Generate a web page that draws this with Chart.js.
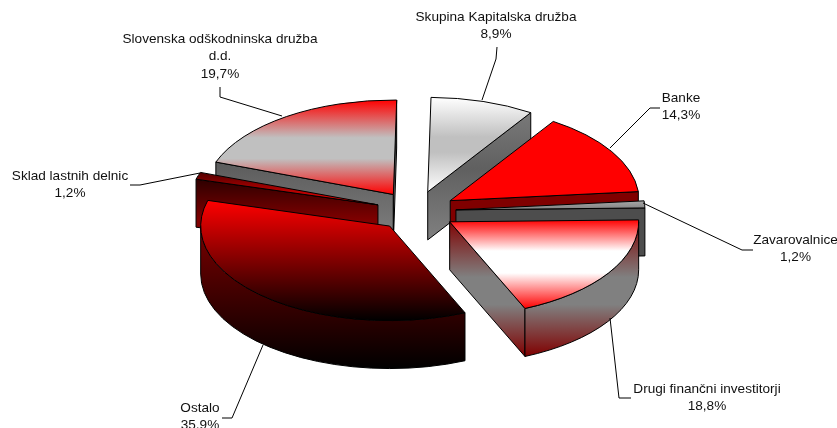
<!DOCTYPE html>
<html><head><meta charset="utf-8">
<style>html,body{margin:0;padding:0;background:#fff}canvas{display:block}</style>
<script src="https://cdn.jsdelivr.net/npm/chart.js@4/dist/chart.umd.min.js"></script>
</head><body><canvas id="c" width="837" height="428"></canvas>
<script>
const categories = ["Skupina Kapitalska družba","Banke","Zavarovalnice","Drugi finančni investitorji","Ostalo","Sklad lastnih delnic","Slovenska odškodninska družba\nd.d."];
const shares = [8.9,14.3,1.2,18.8,35.9,1.2,19.7];

// slice paint: top-face and wall vertical gradient stops
const topStops = [
 [[0,"#ffffff"],[.42,"#c0c0c0"],[.58,"#c0c0c0"],[1,"#ffffff"]],
 [[0,"#ff0000"],[1,"#ff0000"]],
 [[0,"#a8a8a8"],[1,"#808080"]],
 [[0,"#ff0000"],[.35,"#ffffff"],[.6,"#ffffff"],[1,"#ff0000"]],
 [[0,"#ff0000"],[1,"#000000"]],
 [[0,"#500000"],[1,"#ff0000"]],
 [[0,"#ff0000"],[.4,"#c0c0c0"],[.62,"#c0c0c0"],[1,"#ff0000"]]
];
const wallStops = [
 [[0,"#808080"],[.5,"#606060"],[1,"#808080"]],
 [[0,"#800000"],[1,"#800000"]],
 [[0,"#4d4d4d"],[1,"#4d4d4d"]],
 [[0,"#800000"],[.42,"#808080"],[.62,"#808080"],[1,"#800000"]],
 [[0,"#900000"],[1,"#000000"]],
 [[0,"#200000"],[.6,"#800000"],[1,"#800000"]],
 [[0,"#404040"],[1,"#808080"]]
];
const paintOrder = [0,6,1,2,5,3,4];
const TILT = 0.5, DEPTH = 48;

// label centre x, first line centre y, leader polyline
const labelPlace = [
 {x:496,y:17,lead:[[497,47],[496,59],[482,100]]},
 {x:681,y:98,lead:[[660,108],[650,108],[610,148]]},
 {x:795.5,y:240,lead:[[753,250],[742,250],[643,203]]},
 {x:707,y:389,lead:[[631,398],[619,398],[610,318]]},
 {x:200,y:408,lead:[[222,418],[232,418],[263,345]]},
 {x:70,y:176,lead:[[130,185],[140,185],[200,173]]},
 {x:220,y:39,lead:[[220,87],[220,97],[282,116]]}
];

function grad(ctx,y0,y1,stops){
  const g=ctx.createLinearGradient(0,y0,0,y1);
  stops.forEach(s=>g.addColorStop(s[0],s[1]));
  return g;
}
const pie3d = {
  id:'pie3d',
  beforeDatasetDraw(chart){
    const ctx=chart.ctx, arcs=chart.getDatasetMeta(0).data;
    ctx.save();
    ctx.lineWidth=1; ctx.strokeStyle="#000"; ctx.lineJoin="round";
    paintOrder.forEach(i=>{
      const el=arcs[i], a=el.startAngle, b=el.endAngle, r=el.outerRadius;
      const mid=(a+b)/2, off=el.options.offset;
      const tx=el.x+Math.cos(mid)*off, ty=el.y+Math.sin(mid)*off*TILT, ry=r*TILT;
      const px=t=>tx+Math.cos(t)*r, py=t=>ty+Math.sin(t)*ry;
      let ys=[ty,py(a),py(b)];
      [-Math.PI/2,Math.PI/2].forEach(t=>{ if(t>a&&t<b) ys.push(py(t)); });
      const y0=Math.min(...ys), y1=Math.max(...ys);
      const wall=grad(ctx,y0,y1+DEPTH,wallStops[i]);
      ctx.fillStyle=wall;
      const radial=t=>{
        ctx.beginPath(); ctx.moveTo(tx,ty); ctx.lineTo(px(t),py(t));
        ctx.lineTo(px(t),py(t)+DEPTH); ctx.lineTo(tx,ty+DEPTH); ctx.closePath();
        ctx.fill(); ctx.stroke();
      };
      if(Math.cos(a)<0) radial(a);
      if(Math.cos(b)>0) radial(b);
      const s=Math.max(a,0), e=Math.min(b,Math.PI);
      if(e>s){
        ctx.beginPath(); ctx.ellipse(tx,ty,r,ry,0,s,e);
        ctx.lineTo(px(e),py(e)+DEPTH);
        ctx.ellipse(tx,ty+DEPTH,r,ry,0,e,s,true);
        ctx.closePath(); ctx.fill(); ctx.stroke();
      }
      ctx.fillStyle=grad(ctx,y0,y1,topStops[i]);
      ctx.beginPath(); ctx.moveTo(tx,ty); ctx.ellipse(tx,ty,r,ry,0,a,b); ctx.closePath();
      ctx.fill(); ctx.stroke();
    });
    ctx.restore();
    return false;
  },
  afterDatasetsDraw(chart){
    const ctx=chart.ctx, labels=chart.data.labels, vals=chart.data.datasets[0].data;
    ctx.save();
    ctx.strokeStyle="#000"; ctx.lineWidth=1; ctx.fillStyle="#111";
    ctx.font='13.6px "Liberation Sans"'; ctx.textAlign="center"; ctx.textBaseline="middle";
    labels.forEach((lab,i)=>{
      const p=labelPlace[i];
      ctx.beginPath();
      p.lead.forEach((q,k)=>k?ctx.lineTo(q[0],q[1]):ctx.moveTo(q[0],q[1]));
      ctx.stroke();
      const lines=lab.split("\n").concat(vals[i].toFixed(1).replace(".",",")+"%");
      lines.forEach((t,k)=>ctx.fillText(t,p.x,p.y+k*17.6));
    });
    ctx.restore();
  }
};
new Chart(document.getElementById('c'),{
  type:'pie',
  data:{labels:categories,datasets:[{data:shares,offset:40,borderWidth:0}]},
  options:{responsive:false,animation:false,radius:189,rotation:1,
    layout:{padding:{right:5,bottom:6}},
    plugins:{legend:{display:false},tooltip:{enabled:false},title:{display:false}}},
  plugins:[pie3d]
});
</script></body></html>
